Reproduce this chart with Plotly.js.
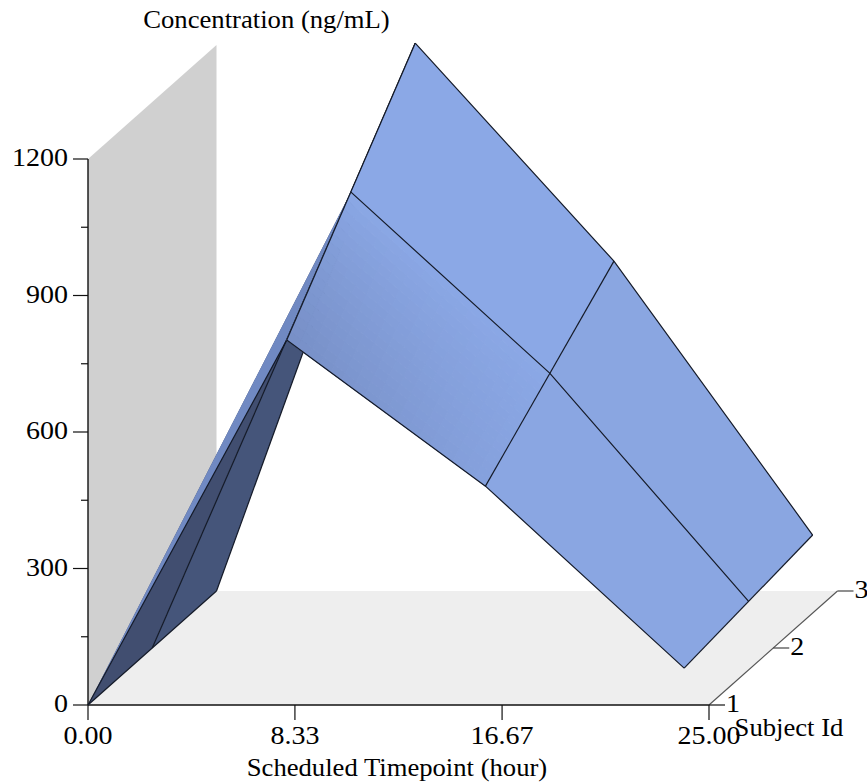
<!DOCTYPE html>
<html>
<head>
<meta charset="utf-8">
<script src="https://cdn.plot.ly/plotly-3.0.1.min.js"></script>
<style>html,body{margin:0;padding:0;background:#fff}#chart{width:867px;height:784px}</style>
</head>
<body>
<div id="chart"></div>
<script>
// Data
const timepoints = [0, 8, 16, 24];
const subjects = [1, 2, 3];
const concSubject1 = [0, 802, 481, 81];
const concSubject2 = [0, 1002, 604, 103];
const concSubject3 = [0, 1204, 725, 123];
const timeTicks = [0, 8.33, 16.67, 25];
const timeTickLabels = ['0.00', '8.33', '16.67', '25.00'];
const concTicks = [0, 300, 600, 900, 1200];
const concMinorTicks = [150, 450, 750, 1050];
const subjectTicks = [1, 2, 3];

const conc = [concSubject1, concSubject2, concSubject3];

// Oblique projection of the 3D scene onto the page
const X0 = 88, Y0 = 705, PER_HOUR = 24.84, SUBJ_DX = 64.25, SUBJ_DY = 57, PER_NG = 0.455;
const px = (t, s) => X0 + t * PER_HOUR + (s - 1) * SUBJ_DX;
const py = (s, z) => Y0 - (s - 1) * SUBJ_DY - z * PER_NG;

const INK = '#141a28', FONT = 'Liberation Serif', TXT = '#000000';
const traces = [];

function poly(pts, color, extra) {
  traces.push(Object.assign({
    type: 'scatter', mode: 'lines', x: pts.map(p => px(p[0], p[1])).concat(px(pts[0][0], pts[0][1])),
    y: pts.map(p => py(p[1], p[2])).concat(py(pts[0][1], pts[0][2])),
    fill: 'toself', fillcolor: color, line: { width: 0, color: color }, hoverinfo: 'skip'
  }, extra || {}));
}
function seg(pts, color, width) {
  traces.push({
    type: 'scatter', mode: 'lines', x: pts.map(p => px(p[0], p[1])), y: pts.map(p => py(p[1], p[2])),
    line: { color: color || INK, width: width || 1.2 }, hoverinfo: 'skip'
  });
}
function label(x, y, str, pos, size) {
  traces.push({
    type: 'scatter', mode: 'text', x: [x], y: [y], text: [str], textposition: pos || 'middle center',
    textfont: { family: FONT, size: size || 25, color: TXT }, hoverinfo: 'skip', cliponaxis: false
  });
}
const V = (ti, si) => [timepoints[ti], subjects[si], conc[si][ti]];

// Back wall and floor
const tMax = timeTicks[3], zMax = concTicks[4];
poly([[0, 1, 0], [0, 3, 0], [0, 3, zMax], [0, 1, zMax]], '#d0d0d0');
poly([[0, 1, 0], [tMax, 1, 0], [tMax, 3, 0], [0, 3, 0]], '#eeeeee');

// Axes
seg([[0, 1, 0], [0, 1, zMax]], '#111111', 1.4);
seg([[0, 1, 0], [tMax, 1, 0]], '#111111', 1.4);
seg([[tMax, 1, 0], [tMax, 3, 0]], '#555555', 1.2);
concTicks.forEach(v => {
  traces.push({ type: 'scatter', mode: 'lines', x: [X0 - 15, X0], y: [py(1, v), py(1, v)], line: { color: '#111', width: 1.2 }, hoverinfo: 'skip' });
  label(X0 - 20, py(1, v) + 1, String(v), 'middle left', 25);
});
concMinorTicks.forEach(v => {
  traces.push({ type: 'scatter', mode: 'lines', x: [X0 - 7, X0], y: [py(1, v), py(1, v)], line: { color: '#111', width: 1.2 }, hoverinfo: 'skip' });
});
timeTicks.forEach((t, i) => {
  traces.push({ type: 'scatter', mode: 'lines', x: [px(t, 1), px(t, 1)], y: [Y0, Y0 + 15], line: { color: '#111', width: 1.2 }, hoverinfo: 'skip' });
  label(px(t, 1), Y0 + 33, timeTickLabels[i], 'middle center', 25);
});
subjectTicks.forEach(s => {
  const x = px(tMax, s), y = py(s, 0);
  traces.push({ type: 'scatter', mode: 'lines', x: [x, x + 16], y: [y, y], line: { color: s === 1 ? '#111' : '#444', width: 1.2 }, hoverinfo: 'skip' });
  label(x + 24, y + 1, String(s), 'middle center', 25);
});

// Underside of the rising limb
poly([V(0, 1), V(0, 2), V(1, 2)], '#45557a');
seg([V(0, 2), V(1, 2)]);
poly([V(0, 0), V(0, 1), V(1, 1)], '#414e70');
// Top side sliver of the rising limb
poly([V(0, 0), V(1, 0), V(1, 1)], '#7089c2');
seg([V(0, 0), V(1, 0)]);
seg([V(0, 1), V(1, 1)]);
seg([V(0, 0), V(0, 1), V(0, 2)]);
seg([V(1, 1), V(1, 2)]);

// Gouraud-style shading of the cell nearest the viewer at the peak
const LIGHT = [139, 168, 230], DARK = [119, 143, 198];
function lerpV(a, b, c, d, u, v) {
  const bl = i => (a[i] * (1 - u) + b[i] * u) * (1 - v) + (d[i] * (1 - u) + c[i] * u) * v;
  return [bl(0), bl(1), bl(2)];
}
function shadedCell(ti, si) {
  const a = V(ti, si), b = V(ti + 1, si), c = V(ti + 1, si + 1), d = V(ti, si + 1);
  const N = 18;
  for (let i = 0; i < N; i++) {
    for (let j = 0; j < N; j++) {
      const u = (i + .5) / N, v = (j + .5) / N;
      const k = Math.pow(1 - v, 0.8) * (1 - 0.72 * u);
      const col = 'rgb(' + LIGHT.map((l, n) => Math.round(l + (DARK[n] - l) * k)).join(',') + ')';
      poly([lerpV(a, b, c, d, i / N, j / N), lerpV(a, b, c, d, (i + 1) / N, j / N),
            lerpV(a, b, c, d, (i + 1) / N, (j + 1) / N), lerpV(a, b, c, d, i / N, (j + 1) / N)],
        col, { line: { width: 1, color: col } });
    }
  }
}
shadedCell(1, 0);
poly([V(1, 1), V(2, 1), V(2, 2), V(1, 2)], '#8ba8e6');
poly([V(2, 0), V(3, 0), V(3, 1), V(2, 1)], '#8aa6e2');
poly([V(2, 1), V(3, 1), V(3, 2), V(2, 2)], '#8aa6e1');

// Grid lines of the surface
subjects.forEach((s, si) => seg([V(1, si), V(2, si), V(3, si)]));
[1, 2, 3].forEach(ti => seg([V(ti, 0), V(ti, 1), V(ti, 2)]));

// Axis titles
label(266.5, 22, 'Concentration (ng/mL)');
label(397, 770, 'Scheduled Timepoint (hour)');
label(789, 730, 'Subject Id');

const layout = {
  width: 867, height: 784, margin: { l: 0, r: 0, t: 0, b: 0 },
  paper_bgcolor: '#ffffff', plot_bgcolor: '#ffffff', showlegend: false,
  xaxis: { range: [0, 867], visible: false, fixedrange: true },
  yaxis: { range: [784, 0], visible: false, fixedrange: true }
};

Plotly.newPlot('chart', traces, layout, { displayModeBar: false, staticPlot: true }).then(gd => {
  // The reference type is horizontally stretched; its numerals more so than its words
  gd.querySelectorAll('.textpoint text').forEach(el => {
    const w = el.getComputedTextLength();
    const factor = /^[\d.]+$/.test(el.textContent) ? 1.12 : 1.066;
    el.setAttribute('textLength', (w * factor).toFixed(1));
    el.setAttribute('lengthAdjust', 'spacingAndGlyphs');
  });
});
</script>
</body>
</html>
